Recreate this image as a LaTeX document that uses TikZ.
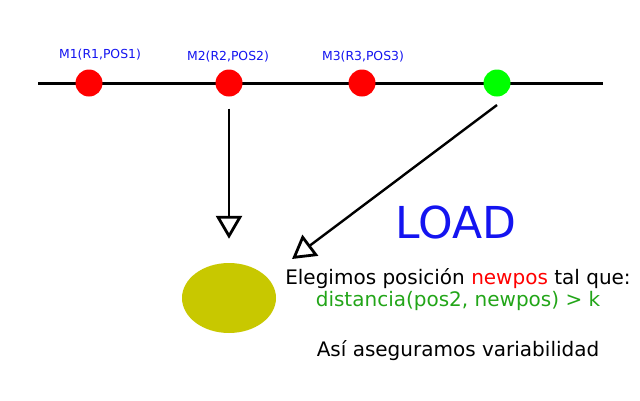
\documentclass[tikz,border=0pt]{standalone}
\usepackage{fontspec}
\setmainfont{DejaVu Sans}
\usetikzlibrary{arrows.meta,positioning,shapes.geometric}
\definecolor{olivo}{RGB}{200,200,0}
\definecolor{verde}{RGB}{34,165,24}
\definecolor{azul}{RGB}{20,20,240}

\begin{document}
\begin{tikzpicture}
  [
   x=1pt,y=-1pt,
   dot/.style={circle,inner sep=0pt,minimum size=27pt},
   rdot/.style={dot,fill=red},
   gdot/.style={dot,fill=green},
   lbl/.style={text=azul,font=\fontsize{12.4}{14}\selectfont,inner sep=0pt},
   txt/.style={font=\fontsize{20}{23}\selectfont,inner sep=0pt},
   arr/.style={line width=2.4pt,-{Triangle[open,length=23pt,width=26pt,line width=2.8pt]}}
  ]
   \useasboundingbox (0,0) rectangle (640,400);

   \coordinate (l0) at (38,83);
   \coordinate (l1) at (603,83);
   \draw[line width=3pt] (l0) -- (l1);

   \node[rdot] (m1) at (89,83) {};
   \node[rdot] (m2) at (229,83) {};
   \node[rdot] (m3) at (362,83) {};
   \node[gdot] (g) at (497,83) {};

   \node[lbl] (t1) at (100,55) {M1(R1,POS1)};
   \node[lbl] (t2) at (228,57) {M2(R2,POS2)};
   \node[lbl] (t3) at (363,57) {M3(R3,POS3)};

   \node[ellipse,fill=olivo,minimum width=94pt,minimum height=70pt,inner sep=0pt] (blob) at (229,298) {};

   \draw[arr,shorten <=12pt,shorten >=24pt] (m2) -- (blob);
   \coordinate (gtail) at (497,105);
   \coordinate (ghead) at (292,259);
   \draw[arr] (gtail) -- (ghead);

   \node[text=azul,font=\fontsize{44}{46}\selectfont,inner sep=0pt] (load) at (456,222) {LOAD};
   \node[txt] (e1) at (458,279) {Elegimos posición \textcolor{red}{newpos} tal que:};
   \node[txt,text=verde] (e2) at (458,301) {distancia(pos2, newpos) > k};
   \node[txt] (e3) at (458,351) {Así aseguramos variabilidad};

\end{tikzpicture}
\end{document}
